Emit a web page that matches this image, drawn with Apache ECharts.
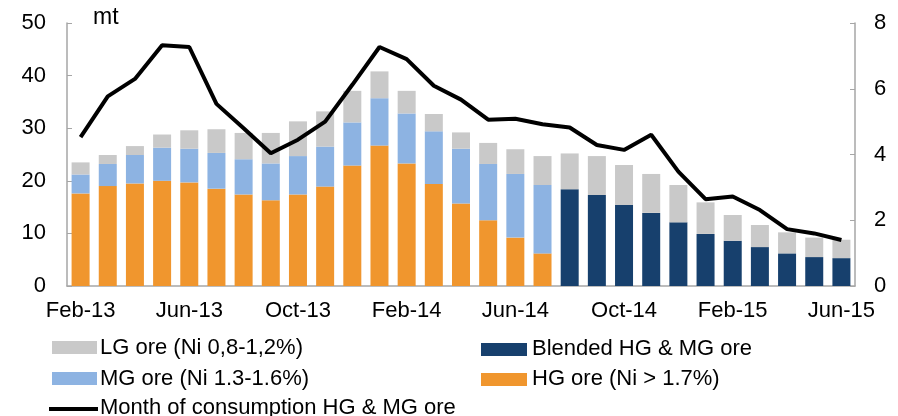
<!DOCTYPE html>
<html>
<head>
<meta charset="utf-8">
<script src="https://cdn.jsdelivr.net/npm/echarts@6/dist/echarts.min.js"></script>
<style>
  html, body { margin: 0; padding: 0; background: #fff; }
  #chart { width: 898px; height: 416px; }
</style>
</head>
<body>
<div id="chart"></div>
<script>
var months = ['Feb-13','Mar-13','Apr-13','May-13','Jun-13','Jul-13','Aug-13','Sep-13','Oct-13','Nov-13','Dec-13','Jan-14',
  'Feb-14','Mar-14','Apr-14','May-14','Jun-14','Jul-14','Aug-14','Sep-14','Oct-14','Nov-14','Dec-14','Jan-15',
  'Feb-15','Mar-15','Apr-15','May-15','Jun-15'];

var hg_ore = [17.6,19.0,19.5,20.0,19.7,18.5,17.4,16.3,17.4,18.9,22.9,26.7,23.3,19.4,15.7,12.5,9.2,6.2,
  null,null,null,null,null,null,null,null,null,null,null];
var mg_ore = [3.6,4.2,5.4,6.3,6.4,6.8,6.7,7.0,7.3,7.6,8.2,9.0,9.5,10.0,10.4,10.7,12.1,13.0,
  null,null,null,null,null,null,null,null,null,null,null];
var blended = [null,null,null,null,null,null,null,null,null,null,null,null,null,null,null,null,null,null,
  18.4,17.3,15.4,13.9,12.1,9.9,8.6,7.4,6.2,5.5,5.3];
var lg_ore = [2.3,1.7,1.7,2.5,3.5,4.5,5.0,5.8,6.6,6.7,6.0,5.1,4.3,3.3,3.1,4.0,4.7,5.5,
  6.8,7.4,7.6,7.4,7.1,6.0,4.9,4.2,4.0,3.7,3.5];
var months_consumption = [4.53,5.77,6.3,7.32,7.27,5.54,4.8,4.04,4.45,5.0,6.12,7.27,6.9,6.09,
  5.67,5.06,5.09,4.92,4.82,4.29,4.14,4.6,3.48,2.64,2.72,2.31,1.73,1.6,1.4];

var chart = echarts.init(document.getElementById('chart'));
var font = 'Liberation Sans, Arial, sans-serif';
var axisGrey = '#a6a6a6';

var option = {
  animation: false,
  textStyle: { fontFamily: font },
  grid: { left: 67, right: 43, top: 23, bottom: 130, containLabel: false },
  legend: { show: false },
  xAxis: {
    type: 'category',
    data: months,
    boundaryGap: true,
    axisLine: { lineStyle: { color: axisGrey, width: 1.5 } },
    axisTick: { interval: 3, length: 5, lineStyle: { color: axisGrey } },
    axisLabel: { interval: 3, color: '#000', fontSize: 22, margin: 14 }
  },
  yAxis: [{
    type: 'value', min: 0, max: 50, interval: 10,
    axisLine: { show: true, lineStyle: { color: axisGrey, width: 1.5 } },
    axisTick: { show: true, inside: true, length: 5, lineStyle: { color: axisGrey } },
    splitLine: { show: false },
    axisLabel: { color: '#000', fontSize: 22, margin: 21 }
  }, {
    type: 'value', min: 0, max: 8, interval: 2,
    axisLine: { show: true, lineStyle: { color: axisGrey, width: 1.5 } },
    axisTick: { show: true, inside: true, length: 5, lineStyle: { color: axisGrey } },
    splitLine: { show: false },
    axisLabel: { color: '#000', fontSize: 22, margin: 19 }
  }],
  graphic: [
    { type: 'text', x: 93, y: 18, style: { text: 'mt', font: '23px ' + font, fill: '#000', verticalAlign: 'middle' } },
    // legend, laid out like the original
    { type: 'rect', shape: { x: 52, y: 341, width: 45, height: 13 }, style: { fill: '#c9c9c9' } },
    { type: 'text', x: 100, y: 348, style: { text: 'LG ore (Ni 0,8-1,2%)', font: '22px ' + font, fill: '#000', verticalAlign: 'middle' } },
    { type: 'rect', shape: { x: 52, y: 372, width: 45, height: 13 }, style: { fill: '#8db3e2' } },
    { type: 'text', x: 100, y: 379, style: { text: 'MG ore (Ni 1.3-1.6%)', font: '22px ' + font, fill: '#000', verticalAlign: 'middle' } },
    { type: 'line', shape: { x1: 49, y1: 409, x2: 98, y2: 409 }, style: { stroke: '#000', lineWidth: 4 } },
    { type: 'text', x: 100, y: 408, style: { text: 'Month of consumption HG & MG ore', font: '22px ' + font, fill: '#000', verticalAlign: 'middle' } },
    { type: 'rect', shape: { x: 481, y: 343, width: 46, height: 13 }, style: { fill: '#17406d' } },
    { type: 'text', x: 532, y: 349, style: { text: 'Blended HG & MG ore', font: '22px ' + font, fill: '#000', verticalAlign: 'middle' } },
    { type: 'rect', shape: { x: 481, y: 373, width: 46, height: 13 }, style: { fill: '#f0962e' } },
    { type: 'text', x: 532, y: 379, style: { text: 'HG ore (Ni > 1.7%)', font: '22px ' + font, fill: '#000', verticalAlign: 'middle' } }
  ],
  series: [
    { name: 'HG ore (Ni > 1.7%)', type: 'bar', stack: 'ore', data: hg_ore, barWidth: 18, itemStyle: { color: '#f0962e' } },
    { name: 'MG ore (Ni 1.3-1.6%)', type: 'bar', stack: 'ore', data: mg_ore, barWidth: 18, itemStyle: { color: '#8db3e2' } },
    { name: 'Blended HG & MG ore', type: 'bar', stack: 'ore', data: blended, barWidth: 18, itemStyle: { color: '#17406d' } },
    { name: 'LG ore (Ni 0,8-1,2%)', type: 'bar', stack: 'ore', data: lg_ore, barWidth: 18, itemStyle: { color: '#c9c9c9' } },
    {
      name: 'Month of consumption HG & MG ore', type: 'line', yAxisIndex: 1, data: months_consumption,
      symbol: 'none', lineStyle: { color: '#000', width: 4 }, z: 5
    }
  ]
};

chart.setOption(option);
</script>
</body>
</html>
